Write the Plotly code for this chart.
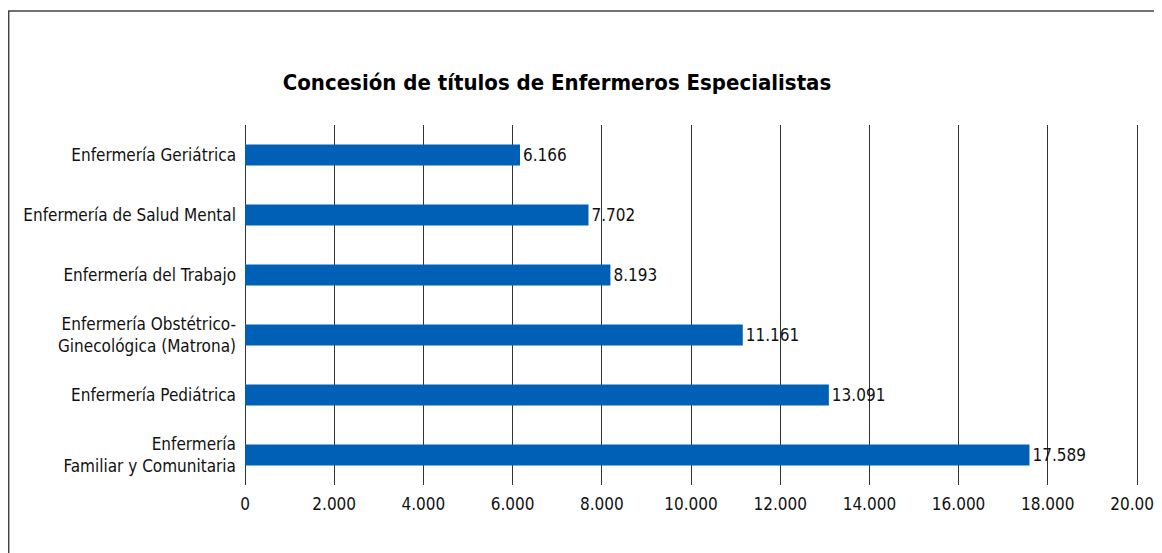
import plotly.graph_objects as go

# bottom to top, as plotly draws categories on a y axis
especialidades = [
    "Enfermería<br>Familiar y Comunitaria",
    "Enfermería Pediátrica",
    "Enfermería Obstétrico-<br>Ginecológica (Matrona)",
    "Enfermería del Trabajo",
    "Enfermería de Salud Mental",
    "Enfermería Geriátrica",
]
titulos = [17589, 13091, 11161, 8193, 7702, 6166]
ticks = [0, 2000, 4000, 6000, 8000, 10000, 12000, 14000, 16000, 18000, 20000]

FONT = "DejaVu Sans Condensed, Liberation Sans Narrow, Arial Narrow, sans-serif"

# the page body adds an 8px offset, so the margins are set 8px short of the target
PLOT_W = 895
fig = go.Figure(
    go.Bar(
        x=titulos,
        y=especialidades,
        orientation="h",
        marker=dict(color="#0060b6", line=dict(width=0)),
        width=0.35,
        texttemplate="%{x:,d}",
        textposition="outside",
        textfont=dict(size=17, color="#111"),
        cliponaxis=False,
    )
)

fig.update_layout(
    width=1162,
    height=553,
    margin=dict(l=237, r=1162 - 237 - PLOT_W, t=117, b=76, autoexpand=False),
    paper_bgcolor="white",
    plot_bgcolor="white",
    separators=",.",
    font=dict(family=FONT, size=17, color="#111"),
    title=dict(
        text="<b>Concesión de títulos de Enfermeros Especialistas</b>",
        x=549 / 1162, xanchor="center", y=1 - 74 / 553, yanchor="middle",
        font=dict(size=22, color="#000"),
    ),
    showlegend=False,
    shapes=[
        dict(type="rect", xref="paper", yref="paper",
             x0=-236.3 / PLOT_W, x1=1.2, y0=-0.5, y1=1 + 114 / 360,
             line=dict(color="#444", width=1.5), layer="below"),
    ],
)
# stretch the range a little so the 20.000 gridline is not clipped at the edge
fig.update_xaxes(
    range=[0, 20000 * PLOT_W / 892],
    tickvals=ticks,
    tickformat=",d",
    showgrid=True, gridcolor="#333", gridwidth=1,
    zeroline=True, zerolinecolor="#333", zerolinewidth=1,
    showline=False, ticks="", ticklen=0, ticklabelstandoff=7,
    tickfont=dict(size=17),
)
fig.update_yaxes(
    showgrid=False, showline=False, ticks="", ticklabelstandoff=8,
    tickfont=dict(size=17),
)

fig.write_html("out.html")
